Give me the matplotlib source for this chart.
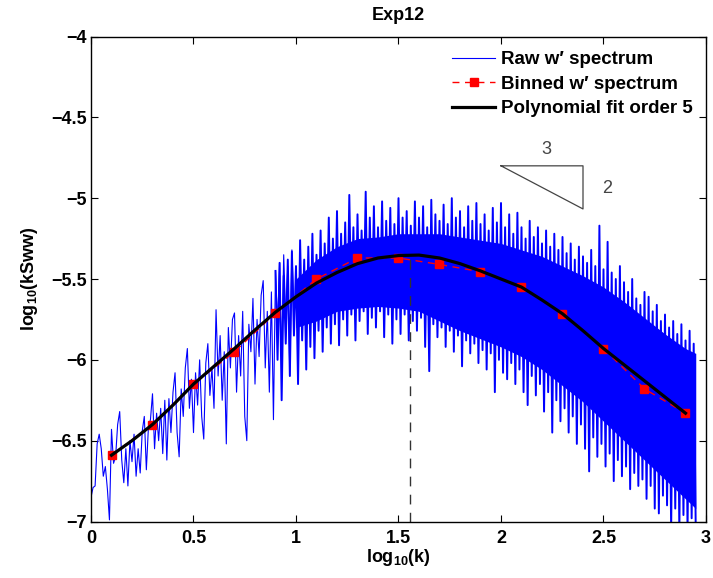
import numpy as np
import matplotlib
matplotlib.use('Agg')
import matplotlib.pyplot as plt

plt.rcParams['font.family'] = ['Liberation Sans', 'DejaVu Sans']
plt.rcParams['font.weight'] = 'bold'
plt.rcParams['mathtext.fontset'] = 'custom'
plt.rcParams['mathtext.rm'] = 'Liberation Sans:bold'
plt.rcParams['mathtext.default'] = 'rm'

# raw spectrum, sparse low-k part: x = 0.00 .. 0.99 step 0.01
raw_sparse_y = [
    -6.85, -6.79, -6.78, -6.52, -6.46, -6.55, -6.72, -6.66, -6.80, -6.99,
    -6.43, -6.64, -6.60, -6.40, -6.32, -6.62, -6.76, -6.55, -6.78, -6.50,
    -6.63, -6.46, -6.72, -6.55, -6.70, -6.44, -6.35, -6.68, -6.42, -6.37,
    -6.21, -6.55, -6.33, -6.50, -6.30, -6.58, -6.25, -6.62, -6.24, -6.45,
    -6.20, -6.08, -6.45, -6.60, -6.18, -6.35, -6.05, -5.93, -6.30, -6.12,
    -6.45, -6.08, -6.28, -6.00, -6.35, -6.49, -6.02, -5.90, -6.22, -6.05,
    -6.30, -5.69, -6.10, -5.85, -6.25, -5.95, -6.52, -5.80, -6.05, -5.75,
    -5.71, -6.20, -5.85, -6.10, -5.70, -6.35, -6.50, -5.78, -5.95, -5.62,
    -6.15, -5.75, -5.98, -5.60, -5.51, -6.05, -5.70, -6.20, -5.58, -6.37,
    -5.45, -5.80, -5.40, -6.00, -5.35, -5.75, -5.42, -6.10, -5.32, -5.70,
]

# raw spectrum, dense high-k part: spike tops / spike bottoms, x = 0.90 .. 2.94 step 0.02
raw_dense_hi = [
    -5.45, -5.40, -5.48, -5.38, -5.33, -5.42, -5.26, -5.38, -5.30, -5.22,
    -5.35, -5.20, -5.28, -5.12, -5.25, -5.08, -5.22, -5.15, -4.98, -5.18,
    -5.10, -5.20, -4.96, -5.12, -5.05, -5.18, -5.02, -5.14, -5.06, -5.16,
    -5.00, -5.12, -5.08, -5.17, -5.02, -5.12, -5.05, -5.18, -5.01, -5.10,
    -5.14, -5.04, -5.16, -5.00, -5.12, -5.08, -5.18, -5.05, -5.14, -5.03,
    -5.16, -5.10, -5.20, -5.06, -5.15, -5.03, -5.18, -5.10, -5.22, -5.09,
    -5.18, -5.25, -5.14, -5.24, -5.18, -5.28, -5.20, -5.30, -5.22, -5.32,
    -5.24, -5.34, -5.28, -5.38, -5.30, -5.36, -5.40, -5.32, -5.42, -5.17,
    -5.44, -5.27, -5.46, -5.50, -5.42, -5.52, -5.58, -5.50, -5.62, -5.66,
    -5.58, -5.61, -5.70, -5.66, -5.76, -5.72, -5.80, -5.76, -5.84, -5.78,
    -5.88, -5.82, -5.90,
]
raw_dense_lo = [
    -6.00, -6.25, -5.90, -6.10, -5.85, -6.15, -5.88, -6.06, -5.92, -5.99,
    -5.82, -5.95, -5.80, -5.90, -5.78, -5.91, -5.75, -5.85, -5.72, -5.88,
    -5.76, -5.70, -5.84, -5.74, -5.80, -5.70, -5.86, -5.72, -5.90, -5.75,
    -5.84, -5.72, -5.88, -5.76, -5.82, -5.74, -5.92, -6.07, -5.78, -5.86,
    -5.80, -5.92, -5.82, -5.95, -5.85, -6.04, -5.88, -5.96, -5.90, -6.02,
    -5.94, -6.06, -5.96, -6.20, -6.00, -6.08, -6.12, -6.02, -6.15, -6.06,
    -6.20, -6.28, -6.10, -6.22, -6.15, -6.32, -6.20, -6.45, -6.25, -6.38,
    -6.30, -6.45, -6.35, -6.52, -6.40, -6.55, -6.69, -6.48, -6.60, -6.52,
    -6.66, -6.58, -6.75, -6.62, -6.72, -6.66, -6.80, -6.70, -6.78, -6.74,
    -6.86, -6.78, -6.92, -6.95, -6.84, -6.90, -7.05, -6.92, -7.05, -6.96,
    -7.05, -6.98, -7.05,
]

# solid core of the raw band (inside the spike fringe)
core_x = [1.0, 1.1, 1.2, 1.3, 1.4, 1.5, 1.6, 1.7, 1.8, 1.9, 2.0,
          2.1, 2.2, 2.3, 2.4, 2.5, 2.6, 2.7, 2.8, 2.9, 2.95]
core_top = [-5.50, -5.38, -5.30, -5.25, -5.24, -5.22, -5.22, -5.22, -5.24, -5.26, -5.28,
            -5.32, -5.36, -5.42, -5.48, -5.55, -5.64, -5.74, -5.84, -5.93, -5.96]
core_bot = [-5.80, -5.76, -5.70, -5.68, -5.67, -5.68, -5.70, -5.76, -5.82, -5.87, -5.92,
            -5.98, -6.06, -6.16, -6.26, -6.38, -6.50, -6.62, -6.74, -6.86, -6.92]

# binned spectrum
bin_x = [0.1, 0.3, 0.5, 0.7, 0.9, 1.1, 1.3, 1.5, 1.7, 1.9, 2.1, 2.3, 2.5, 2.7, 2.9]
bin_y = [-6.59, -6.40, -6.15, -5.95, -5.71, -5.50, -5.37, -5.37, -5.41, -5.455,
         -5.55, -5.715, -5.93, -6.18, -6.33]

# polynomial fit (order 5), read at x = 0.1 .. 2.9 step 0.1
fit_x = [0.1, 0.2, 0.3, 0.4, 0.5, 0.6, 0.7, 0.8, 0.9, 1.0, 1.1, 1.2, 1.3, 1.4, 1.5,
         1.6, 1.7, 1.8, 1.9, 2.0, 2.1, 2.2, 2.3, 2.4, 2.5, 2.6, 2.7, 2.8, 2.9]
fit_y = [-6.59, -6.50, -6.40, -6.28, -6.15, -6.04, -5.93, -5.815, -5.705, -5.61,
         -5.525, -5.46, -5.405, -5.37, -5.355, -5.352, -5.37, -5.405, -5.45, -5.50,
         -5.55, -5.63, -5.715, -5.82, -5.93, -6.03, -6.13, -6.23, -6.33]

peak_x, peak_y = 1.555, -5.352

# slope triangle (-2/3)
tri_x = [2.0, 2.4, 2.4, 2.0]
tri_y = [-4.8, -4.8, -5.0667, -4.8]

xticks = [0, 0.5, 1, 1.5, 2, 2.5, 3]
xtick_labels = ['0', '0.5', '1', '1.5', '2', '2.5', '3']
yticks = [-7, -6.5, -6, -5.5, -5, -4.5, -4]
ytick_labels = ['\u22127', '\u22126.5', '\u22126', '\u22125.5', '\u22125', '\u22124.5', '\u22124']

BLUE = '#0000ff'
sparse_x = np.round(np.arange(len(raw_sparse_y)) * 0.01, 2)
dense_x = np.round(0.90 + np.arange(len(raw_dense_hi)) * 0.02, 2)
# zigzag: spike top at x, spike bottom half a step later
zig_x = np.column_stack([dense_x, dense_x + 0.01]).ravel()
zig_y = np.column_stack([raw_dense_hi, raw_dense_lo]).ravel()

fig = plt.figure(figsize=(7.13, 5.78), dpi=100)
ax = fig.add_axes([91 / 713, 56.5 / 578, 615 / 713, 485 / 578])

ax.plot(sparse_x, raw_sparse_y, color=BLUE, lw=0.8, label="Raw w\u2032 spectrum")
ax.fill_between(core_x, core_bot, core_top, color=BLUE, lw=0)
ax.plot(zig_x, zig_y, color=BLUE, lw=1.4)
ax.plot(bin_x, bin_y, color='#ff0000', lw=1.0, ls=(0, (5, 4)), marker='s', ms=6,
        mec='#ff0000', mfc='#ff0000', label="Binned w\u2032 spectrum")
ax.plot(fit_x, fit_y, color='black', lw=2.3, label='Polynomial fit order 5')
ax.plot([peak_x, peak_x], [-7, peak_y], color='#333333', lw=1.0, ls=(0, (7, 6)))

ax.plot(tri_x, tri_y, color='#444444', lw=0.9)
ax.text(2.22, -4.70, '3', color='#444444', fontsize=13, fontweight='normal', ha='center', va='center')
ax.text(2.52, -4.94, '2', color='#444444', fontsize=13, fontweight='normal', ha='center', va='center')

ax.set_xlim(0, 3)
ax.set_ylim(-7, -4)
ax.set_xticks(xticks)
ax.set_xticklabels(xtick_labels)
ax.set_yticks(yticks)
ax.set_yticklabels(ytick_labels)
ax.tick_params(direction='in', top=True, right=True, length=5, width=0.8, labelsize=13)
ax.tick_params(axis='x', pad=6)
ax.tick_params(axis='y', pad=3)
for s in ax.spines.values():
    s.set_linewidth(1.0)

ax.set_xlabel(r'log$_{10}$(k)', fontsize=13, fontweight='bold', labelpad=0)
ax.set_ylabel(r'log$_{10}$(kSww)', fontsize=13, fontweight='bold', labelpad=8)
ax.set_title('Exp12', fontsize=13, fontweight='bold', pad=12)

leg = ax.legend(loc='upper right', bbox_to_anchor=(1.0, 0.997), frameon=False, fontsize=13.5,
                handlelength=2.3, handletextpad=0.3, labelspacing=0.4, borderaxespad=0.3)
for t in leg.get_texts():
    t.set_fontweight('bold')

fig.savefig('out.png', dpi=100)
